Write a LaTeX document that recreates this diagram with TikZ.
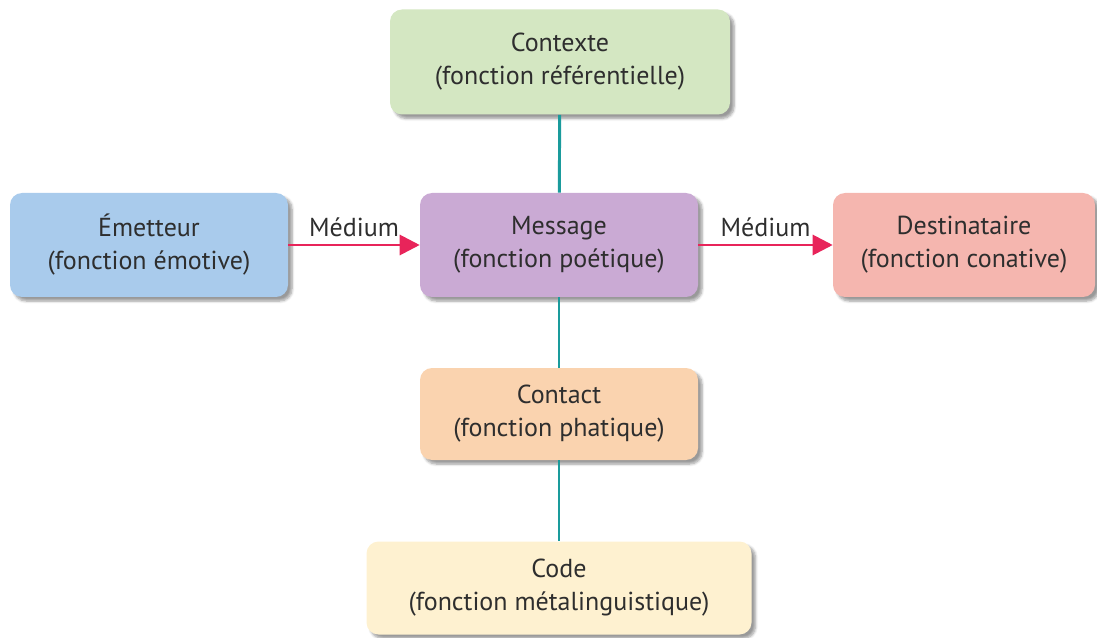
\documentclass[tikz,border=0pt]{standalone}
\usepackage{fontspec}
\setmainfont{PT Sans}
\usetikzlibrary{arrows.meta,shadows.blur}
\definecolor{txtgray}{HTML}{2E2E2E}
\definecolor{ctxgreen}{HTML}{D4E7C2}
\definecolor{emtblue}{HTML}{A9CBEC}
\definecolor{msgpurple}{HTML}{CAAAD4}
\definecolor{dstpink}{HTML}{F5B6AF}
\definecolor{cntorange}{HTML}{FAD3AF}
\definecolor{codecream}{HTML}{FEF1D0}
\definecolor{linkteal}{HTML}{1A9B9C}
\definecolor{arrowred}{HTML}{E8245A}
\begin{document}
\begin{tikzpicture}
  [x=0.75pt,y=-0.75pt,
   fn/.style={rounded corners=9pt, align=center, text=txtgray,
     font=\fontsize{19.5}{24.75}\selectfont, inner sep=0pt,
     blur shadow={shadow xshift=3pt, shadow yshift=-3pt,
       shadow blur steps=6, shadow opacity=40}},
   link/.style={draw=linkteal, line width=2.2pt},
   medium/.style={draw=arrowred, line width=2.2pt,
     -{Triangle[length=15pt,width=15pt]}},
   lbl/.style={text=txtgray, font=\fontsize{19.5}{22}\selectfont}]
  \useasboundingbox (0,0) rectangle (1097,638);
  \node[fn, fill=ctxgreen, minimum width=255pt, minimum height=78.75pt]
    (contexte) at (560,62) {Contexte\\(fonction référentielle)};
  \node[fn, fill=emtblue, minimum width=208.5pt, minimum height=78pt]
    (emetteur) at (149,245) {Émetteur\\(fonction émotive)};
  \node[fn, fill=msgpurple, minimum width=208.5pt, minimum height=78pt]
    (message) at (559,245) {Message\\(fonction poétique)};
  \node[fn, fill=dstpink, minimum width=196.5pt, minimum height=78pt]
    (destinataire) at (964,245) {Destinataire\\(fonction conative)};
  \node[fn, fill=cntorange, minimum width=208.5pt, minimum height=69pt]
    (contact) at (559,414) {Contact\\(fonction phatique)};
  \node[fn, fill=codecream, minimum width=288.75pt, minimum height=69.75pt]
    (code) at (559,588) {Code\\(fonction métalinguistique)};
  \draw[link] (contexte) -- (message);
  \draw[link] (message) -- (contact);
  \draw[link] (contact) -- (code);
  \draw[medium] (emetteur) -- node[lbl, above=2pt] (medium1) {Médium} (message);
  \draw[medium] (message) -- node[lbl, above=2pt] (medium2) {Médium} (destinataire);
\end{tikzpicture}
\end{document}
